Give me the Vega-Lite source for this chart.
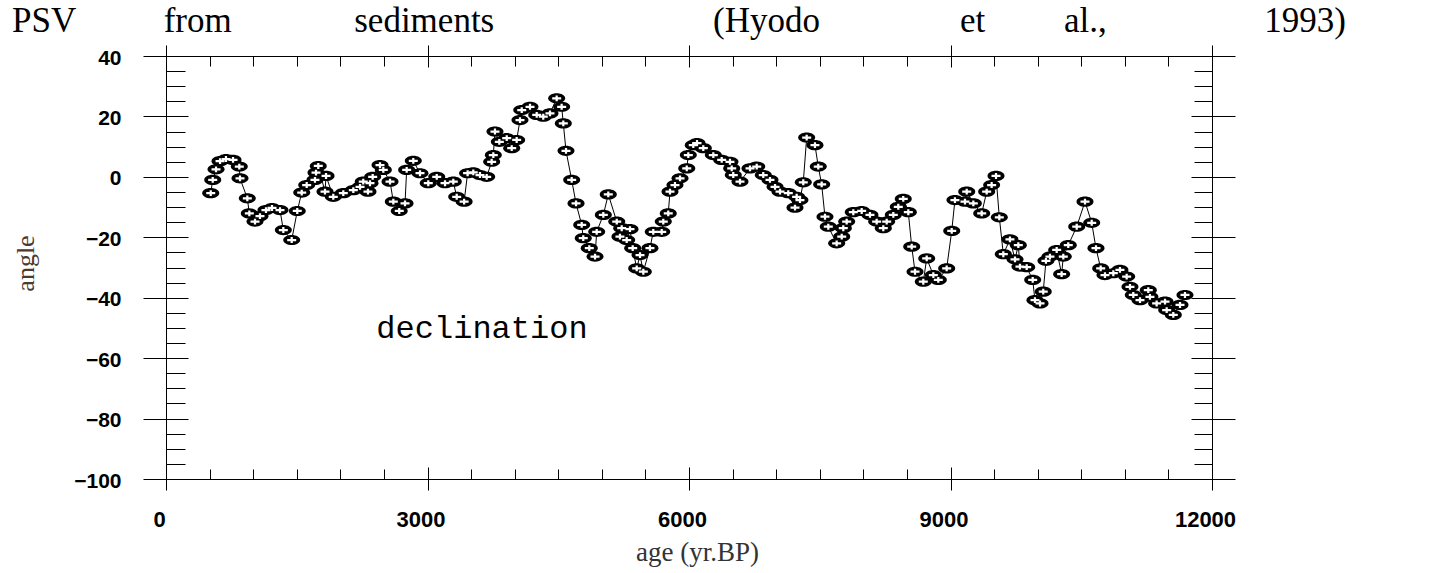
{
  "$schema": "https://vega.github.io/schema/vega-lite/v6.json",
  "width": 1046,
  "height": 423,
  "autosize": {"type": "none"},
  "padding": {"left": 166, "top": 56, "right": 220, "bottom": 94},
  "background": "white",
  "title": {
    "text": "PSV\u00a0\u00a0\u00a0\u00a0\u00a0\u00a0\u00a0\u00a0\u00a0\u00a0from\u00a0\u00a0\u00a0\u00a0\u00a0\u00a0\u00a0\u00a0\u00a0\u00a0\u00a0\u00a0\u00a0\u00a0sediments\u00a0\u00a0\u00a0\u00a0\u00a0\u00a0\u00a0\u00a0\u00a0\u00a0\u00a0\u00a0\u00a0\u00a0\u00a0\u00a0\u00a0\u00a0\u00a0\u00a0\u00a0\u00a0\u00a0\u00a0\u00a0(Hyodo\u00a0\u00a0\u00a0\u00a0\u00a0\u00a0\u00a0\u00a0\u00a0\u00a0\u00a0\u00a0\u00a0\u00a0\u00a0\u00a0et\u00a0\u00a0\u00a0\u00a0\u00a0\u00a0\u00a0\u00a0\u00a0al.,\u00a0\u00a0\u00a0\u00a0\u00a0\u00a0\u00a0\u00a0\u00a0\u00a0\u00a0\u00a0\u00a0\u00a0\u00a0\u00a0\u00a0\u00a01993)",
    "anchor": "start",
    "frame": "group",
    "dx": -154,
    "offset": -22,
    "baseline": "alphabetic",
    "font": "Liberation Serif",
    "fontSize": 35,
    "fontWeight": "normal",
    "color": "black"
  },
  "data": {
    "values": [
      {"age": 513, "angle": -5.4}, {"age": 536, "angle": -1.0}, {"age": 574, "angle": 2.5}, {"age": 620, "angle": 5.2},
      {"age": 688, "angle": 5.9}, {"age": 769, "angle": 5.6}, {"age": 841, "angle": 3.4}, {"age": 849, "angle": -0.5},
      {"age": 933, "angle": -7.1}, {"age": 956, "angle": -12.1}, {"age": 1021, "angle": -14.8}, {"age": 1078, "angle": -13.0},
      {"age": 1147, "angle": -11.0}, {"age": 1216, "angle": -10.3}, {"age": 1308, "angle": -11.0}, {"age": 1346, "angle": -17.6},
      {"age": 1442, "angle": -20.9}, {"age": 1506, "angle": -11.3}, {"age": 1557, "angle": -5.2}, {"age": 1614, "angle": -2.7},
      {"age": 1709, "angle": -1.0}, {"age": 1721, "angle": 1.4}, {"age": 1747, "angle": 3.6}, {"age": 1824, "angle": -4.9},
      {"age": 1836, "angle": 0.3}, {"age": 1919, "angle": -6.6}, {"age": 2034, "angle": -5.4}, {"age": 2149, "angle": -4.4},
      {"age": 2226, "angle": -3.3}, {"age": 2263, "angle": -1.6}, {"age": 2317, "angle": -4.9}, {"age": 2340, "angle": -2.1},
      {"age": 2371, "angle": 0.0}, {"age": 2455, "angle": 3.9}, {"age": 2493, "angle": 2.3}, {"age": 2570, "angle": -1.6},
      {"age": 2608, "angle": -8.2}, {"age": 2676, "angle": -11.3}, {"age": 2742, "angle": -8.8}, {"age": 2761, "angle": 2.3},
      {"age": 2837, "angle": 5.3}, {"age": 2914, "angle": 1.2}, {"age": 3009, "angle": -2.1}, {"age": 3106, "angle": 0.0},
      {"age": 3201, "angle": -2.1}, {"age": 3296, "angle": -1.6}, {"age": 3335, "angle": -6.6}, {"age": 3420, "angle": -8.2},
      {"age": 3460, "angle": 1.2}, {"age": 3525, "angle": 1.5}, {"age": 3602, "angle": 0.6}, {"age": 3679, "angle": 0.0},
      {"age": 3736, "angle": 5.0}, {"age": 3755, "angle": 7.2}, {"age": 3774, "angle": 15.0}, {"age": 3824, "angle": 11.6},
      {"age": 3909, "angle": 12.8}, {"age": 3966, "angle": 9.5}, {"age": 4023, "angle": 12.2}, {"age": 4061, "angle": 18.8},
      {"age": 4081, "angle": 22.1}, {"age": 4176, "angle": 23.2}, {"age": 4253, "angle": 20.5}, {"age": 4328, "angle": 19.9},
      {"age": 4405, "angle": 21.0}, {"age": 4482, "angle": 26.0}, {"age": 4539, "angle": 23.2}, {"age": 4558, "angle": 17.7},
      {"age": 4589, "angle": 8.6}, {"age": 4654, "angle": -1.0}, {"age": 4704, "angle": -8.8}, {"age": 4769, "angle": -15.9},
      {"age": 4787, "angle": -20.3}, {"age": 4856, "angle": -23.6}, {"age": 4922, "angle": -26.4}, {"age": 4941, "angle": -18.2},
      {"age": 5017, "angle": -12.6}, {"age": 5074, "angle": -5.8}, {"age": 5171, "angle": -14.8}, {"age": 5208, "angle": -19.8},
      {"age": 5228, "angle": -17.0}, {"age": 5285, "angle": -20.9}, {"age": 5323, "angle": -17.3}, {"age": 5354, "angle": -23.6},
      {"age": 5400, "angle": -30.3}, {"age": 5438, "angle": -25.9}, {"age": 5476, "angle": -31.4}, {"age": 5552, "angle": -23.6},
      {"age": 5590, "angle": -18.2}, {"age": 5687, "angle": -18.2}, {"age": 5705, "angle": -14.8}, {"age": 5762, "angle": -12.1},
      {"age": 5782, "angle": -4.9}, {"age": 5839, "angle": -2.7}, {"age": 5897, "angle": -0.5}, {"age": 5974, "angle": 2.8},
      {"age": 5992, "angle": 7.2}, {"age": 6049, "angle": 10.5}, {"age": 6092, "angle": 11.2}, {"age": 6164, "angle": 9.5},
      {"age": 6279, "angle": 7.2}, {"age": 6375, "angle": 5.6}, {"age": 6470, "angle": 5.0}, {"age": 6490, "angle": 2.8},
      {"age": 6508, "angle": 0.6}, {"age": 6585, "angle": -1.6}, {"age": 6700, "angle": 2.8}, {"age": 6777, "angle": 3.4},
      {"age": 6852, "angle": 0.6}, {"age": 6929, "angle": -1.0}, {"age": 6987, "angle": -3.3}, {"age": 7044, "angle": -4.9},
      {"age": 7139, "angle": -5.4}, {"age": 7216, "angle": -10.2}, {"age": 7235, "angle": -6.6}, {"age": 7273, "angle": -7.7},
      {"age": 7311, "angle": -1.8}, {"age": 7350, "angle": 13.0}, {"age": 7445, "angle": 10.5}, {"age": 7483, "angle": 3.4},
      {"age": 7522, "angle": -2.5}, {"age": 7560, "angle": -13.2}, {"age": 7598, "angle": -16.5}, {"age": 7694, "angle": -22.0},
      {"age": 7752, "angle": -19.8}, {"age": 7770, "angle": -17.0}, {"age": 7809, "angle": -14.8}, {"age": 7885, "angle": -11.7},
      {"age": 7981, "angle": -11.3}, {"age": 8076, "angle": -12.6}, {"age": 8153, "angle": -14.8}, {"age": 8229, "angle": -17.0},
      {"age": 8268, "angle": -14.8}, {"age": 8344, "angle": -12.6}, {"age": 8401, "angle": -9.9}, {"age": 8458, "angle": -7.3},
      {"age": 8516, "angle": -11.7}, {"age": 8555, "angle": -23.1}, {"age": 8593, "angle": -31.4}, {"age": 8688, "angle": -34.7},
      {"age": 8727, "angle": -27.0}, {"age": 8803, "angle": -32.5}, {"age": 8860, "angle": -34.1}, {"age": 8956, "angle": -30.3},
      {"age": 9014, "angle": -17.9}, {"age": 9051, "angle": -7.7}, {"age": 9166, "angle": -8.2}, {"age": 9186, "angle": -4.9},
      {"age": 9262, "angle": -8.8}, {"age": 9358, "angle": -12.1}, {"age": 9415, "angle": -4.9}, {"age": 9472, "angle": -2.7},
      {"age": 9522, "angle": 0.3}, {"age": 9560, "angle": -13.4}, {"age": 9606, "angle": -25.6}, {"age": 9682, "angle": -20.7},
      {"age": 9740, "angle": -27.3}, {"age": 9778, "angle": -22.6}, {"age": 9797, "angle": -29.7}, {"age": 9874, "angle": -29.9},
      {"age": 9943, "angle": -34.1}, {"age": 9969, "angle": -40.8}, {"age": 10027, "angle": -41.9}, {"age": 10064, "angle": -38.0},
      {"age": 10095, "angle": -27.8}, {"age": 10141, "angle": -26.4}, {"age": 10218, "angle": -24.2}, {"age": 10275, "angle": -32.2},
      {"age": 10294, "angle": -26.4}, {"age": 10351, "angle": -22.6}, {"age": 10448, "angle": -16.5}, {"age": 10543, "angle": -8.2},
      {"age": 10620, "angle": -15.2}, {"age": 10669, "angle": -23.6}, {"age": 10723, "angle": -30.3}, {"age": 10772, "angle": -32.5},
      {"age": 10868, "angle": -31.9}, {"age": 10944, "angle": -30.8}, {"age": 11021, "angle": -33.0}, {"age": 11059, "angle": -36.4},
      {"age": 11097, "angle": -39.1}, {"age": 11174, "angle": -40.8}, {"age": 11269, "angle": -37.5}, {"age": 11288, "angle": -39.7},
      {"age": 11365, "angle": -41.9}, {"age": 11461, "angle": -41.3}, {"age": 11480, "angle": -44.1}, {"age": 11556, "angle": -45.7},
      {"age": 11633, "angle": -42.4}, {"age": 11690, "angle": -39.1}
    ]
  },
  "layer": [
    {
      "mark": {"type": "line", "color": "black", "strokeWidth": 1},
      "encoding": {
        "x": {
          "field": "age", "type": "quantitative",
          "scale": {"domain": [0, 12000], "nice": false, "zero": false},
          "axis": {
            "orient": "bottom", "offset": -12, "values": [0, 3000, 6000, 9000, 12000], "format": "d",
            "tickSize": 23, "tickColor": "black", "tickWidth": 1, "domain": false, "grid": false,
            "labelFont": "Liberation Sans", "labelFontWeight": "bold", "labelFontSize": 22, "labelColor": "black",
            "labelPadding": 19, "labelOffset": -7, "labelFlush": false, "labelOverlap": false,
            "title": "age (yr.BP)", "titleFont": "Liberation Serif", "titleFontSize": 27, "titleFontWeight": "normal",
            "titleColor": "#333333", "titleX": 531, "titleY": 85, "titleBaseline": "middle", "titleAlign": "center", "titleAnchor": null
          }
        },
        "y": {
          "field": "angle", "type": "quantitative",
          "scale": {"domain": [-100, 40], "nice": false, "zero": false},
          "axis": {
            "orient": "left", "offset": -22, "values": [-100, -80, -60, -40, -20, 0, 20, 40],
            "tickSize": 45, "tickColor": "black", "tickWidth": 1, "domain": false, "grid": false,
            "labelFont": "Liberation Sans", "labelFontWeight": "bold", "labelFontSize": 21, "labelColor": "black",
            "labelPadding": 22, "labelFlush": false, "labelOverlap": false, "labelBaseline": "middle", "labelOffset": 2,
            "title": "angle", "titleFont": "Liberation Serif", "titleFontSize": 26, "titleFontWeight": "normal",
            "titleColor": "#4a3a30", "titleAngle": -90, "titleX": -163, "titleY": 207, "titleAlign": "center", "titleBaseline": "middle"
          }
        }
      }
    },
    {
      "mark": {"type": "point", "shape": "M -1 0 A 1 0.6 0 1 1 1 0 A 1 0.6 0 1 1 -1 0 Z", "filled": true, "color": "black", "opacity": 1, "size": 289, "strokeWidth": 0},
      "encoding": {
        "x": {
          "field": "age", "type": "quantitative",
          "axis": {
            "orient": "bottom", "values": [0, 500, 1000, 1500, 2000, 2500, 3000, 3500, 4000, 4500, 5000, 5500, 6000, 6500, 7000, 7500, 8000, 8500, 9000, 9500, 10000, 10500, 11000, 11500, 12000],
            "tickSize": -10, "tickColor": "black", "tickWidth": 1, "domain": true, "domainColor": "black", "domainWidth": 1,
            "labels": false, "grid": false, "title": null
          }
        },
        "y": {
          "field": "angle", "type": "quantitative",
          "axis": {
            "orient": "left", "values": [-100, -95, -90, -85, -80, -75, -70, -65, -60, -55, -50, -45, -40, -35, -30, -25, -20, -15, -10, -5, 0, 5, 10, 15, 20, 25, 30, 35, 40],
            "tickSize": -19, "tickColor": "black", "tickWidth": 1, "domain": true, "domainColor": "black", "domainWidth": 1,
            "labels": false, "grid": false, "title": null
          }
        }
      }
    },
    {
      "mark": {"type": "point", "shape": "M -1 -0.25 H 1 V 0.25 H -1 Z M -0.25 -0.65 H 0.25 V 0.65 H -0.25 Z", "filled": true, "color": "white", "opacity": 1, "size": 81, "strokeWidth": 0},
      "encoding": {
        "x": {
          "field": "age", "type": "quantitative",
          "axis": {
            "orient": "top", "offset": -11, "values": [0, 3000, 6000, 9000, 12000],
            "tickSize": 22, "tickColor": "black", "tickWidth": 1, "domain": false,
            "labels": false, "grid": false, "title": null
          }
        },
        "y": {
          "field": "angle", "type": "quantitative",
          "axis": {
            "orient": "right", "offset": -21, "values": [-100, -80, -60, -40, -20, 0, 20, 40],
            "tickSize": 44, "tickColor": "black", "tickWidth": 1, "domain": false,
            "labels": false, "grid": false, "title": null
          }
        }
      }
    },
    {
      "mark": {"type": "point", "opacity": 0},
      "encoding": {
        "x": {
          "field": "age", "type": "quantitative",
          "axis": {
            "orient": "top", "values": [0, 500, 1000, 1500, 2000, 2500, 3000, 3500, 4000, 4500, 5000, 5500, 6000, 6500, 7000, 7500, 8000, 8500, 9000, 9500, 10000, 10500, 11000, 11500, 12000],
            "tickSize": -10, "tickColor": "black", "tickWidth": 1, "domain": true, "domainColor": "black", "domainWidth": 1,
            "labels": false, "grid": false, "title": null
          }
        },
        "y": {
          "field": "angle", "type": "quantitative",
          "axis": {
            "orient": "right", "values": [-100, -95, -90, -85, -80, -75, -70, -65, -60, -55, -50, -45, -40, -35, -30, -25, -20, -15, -10, -5, 0, 5, 10, 15, 20, 25, 30, 35, 40],
            "tickSize": -18, "tickColor": "black", "tickWidth": 1, "domain": true, "domainColor": "black", "domainWidth": 1,
            "labels": false, "grid": false, "title": null
          }
        }
      }
    },
    {
      "data": {"values": [{}]},
      "mark": {"type": "text", "text": "declination", "font": "Liberation Mono", "fontSize": 32, "color": "black", "align": "center", "baseline": "alphabetic"},
      "encoding": {
        "x": {"datum": 3625, "type": "quantitative", "axis": null},
        "y": {"datum": -53.3, "type": "quantitative", "axis": null}
      }
    }
  ],
  "resolve": {"axis": {"x": "independent", "y": "independent"}},
  "config": {"view": {"stroke": null}, "axis": {"grid": false}}
}
